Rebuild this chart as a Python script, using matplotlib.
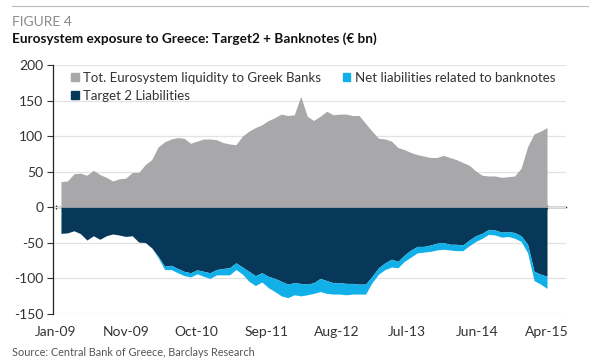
import matplotlib
matplotlib.use("Agg")
import matplotlib.pyplot as plt
from matplotlib.patches import Patch
from matplotlib.lines import Line2D
import numpy as np

plt.rcParams['font.family'] = ['Lato', 'DejaVu Sans']
plt.rcParams['axes.unicode_minus'] = False

# ---- data (monthly, Jan-09 .. Apr-15) ----
total_liquidity = [36, 37, 47, 48, 45, 52, 46, 42, 37, 40,
                   41, 49, 49, 60, 67, 85, 92, 96, 98, 97,
                   90, 93, 96, 96, 95, 91, 89, 88, 100, 107,
                   112, 116, 122, 126, 131, 129, 130, 156, 128, 122,
                   128, 135, 130, 131, 131, 129, 129, 118, 107, 97,
                   96, 93, 84, 81, 77, 74, 72, 70, 70, 73,
                   70, 67, 63, 59, 51, 45, 44, 44, 42, 43,
                   44, 55, 85, 103, 107, 112]
target2 = [-36.6, -36, -33, -37, -46, -40, -45, -40, -37.5, -39,
           -41, -40, -49, -49.5, -57, -69, -83, -81.5, -86, -90,
           -92, -88, -90, -92, -87.5, -86, -85, -78, -84, -90,
           -96, -92, -97, -100, -104, -108, -106, -107, -108, -106,
           -100, -103, -106, -106, -107, -107, -108, -108, -97, -85,
           -78, -73, -76, -67, -60, -55, -55, -53, -50.5, -49.5,
           -52, -52, -53, -46, -40, -36.5, -31, -32, -35, -34,
           -35.5, -40, -52, -90, -94, -97]
banknotes = [0, 0, 0, 0, 0, 0, 0, 0, 0, 0,
             0, 0, 0, 0, 0, -2, -4.5, -6, -6, -6,
             -6, -5.5, -7, -8, -7.5, -9, -10, -9.5, -10, -14,
             -14, -13, -16, -18.5, -20.5, -19, -17, -17.5, -15, -15,
             -18.5, -18, -16, -16, -16, -15, -14, -14, -9, -9,
             -9.5, -11, -9, -9, -10, -9, -8, -9, -9.5, -9.5,
             -8, -9, -8, -8, -8, -7, -7, -7, -7, -7,
             -8, -8, -12, -13, -14, -17]
tick_labels = ['Jan-09', 'Nov-09', 'Oct-10', 'Sep-11', 'Aug-12', 'Jul-13', 'Jun-14', 'Apr-15']
y_ticks = [200, 150, 100, 50, 0, -50, -100, -150]

c_gray = '#A8A8AA'
c_navy = '#07385A'
c_blue = '#12B0E8'
c_text = '#333333'

x = np.arange(len(total_liquidity))
t2 = np.array(target2)
bn = np.array(banknotes)

fig = plt.figure(figsize=(6, 3.64), dpi=100)
ax = fig.add_axes([53/600, 1-314/364, (566-53)/600, (314-65)/364])

ax.fill_between(x, 0, total_liquidity, color=c_gray, lw=0, zorder=2)
ax.fill_between(x, 0, t2, color=c_navy, lw=0, zorder=2)
ax.fill_between(x, t2, t2 + bn, color=c_blue, lw=0, zorder=2)

ax.set_ylim(-150, 200)
ax.set_xlim(-1.23, 77.93)
ax.set_yticks(y_ticks)
ax.set_yticklabels([str(v) for v in y_ticks])
ax.grid(axis='y', color='#E2E2E2', lw=0.9, zorder=0)
ax.set_axisbelow(True)

xt = np.linspace(-0.8, 75, len(tick_labels))
ax.set_xticks(xt)
ax.set_xticklabels(tick_labels)
ax.tick_params(axis='x', length=0, pad=9, labelsize=10, colors=c_text)
ax.tick_params(axis='y', length=4, width=0.8, pad=3, labelsize=10, colors=c_text, direction='out')
for s in ['top', 'right', 'bottom']:
    ax.spines[s].set_visible(False)
ax.spines['left'].set_color('#222222')
ax.spines['left'].set_linewidth(0.9)

# zero axis line with tick marks
sec = ax.secondary_xaxis(150/350)
sec.set_xticks(xt)
sec.set_xticklabels([])
sec.tick_params(axis='x', length=3, width=0.8, direction='inout', color='#222222')
sec.spines['bottom'].set_color('#222222')
sec.spines['bottom'].set_linewidth(1.0)
for s in ['top', 'left', 'right']:
    sec.spines[s].set_visible(False)

handles = [Patch(color=c_gray), Patch(color=c_navy), Patch(color=c_blue)]
labels = ['Tot. Eurosystem liquidity to Greek Banks', 'Target 2 Liabilities',
          'Net liabilities related to banknotes']
leg = ax.legend(handles, labels, ncol=2, loc='upper left', bbox_to_anchor=(0.022, 1.0),
                frameon=False, fontsize=9.5, handlelength=0.6, handleheight=0.6,
                handletextpad=0.35, columnspacing=1.6, labelspacing=0.45,
                borderaxespad=0.1)
for t in leg.get_texts():
    t.set_color(c_text)

# titles
fig.add_artist(Line2D([12/600, 588/600], [1-6/364, 1-6/364], color='#BBBBBB', lw=0.8))
fig.text(12/600, 1-22/364, 'FIGURE 4', fontsize=10, color='#8A8A8A', va='center', ha='left')
fig.text(12/600, 1-39/364, 'Eurosystem exposure to Greece: Target2 + Banknotes (€ bn)',
         fontsize=9.8, fontweight='bold', color='#111111', va='center', ha='left')
fig.text(12/600, 1-352/364, 'Source: Central Bank of Greece, Barclays Research',
         fontsize=7.8, color='#555555', va='center', ha='left')

fig.savefig('out.png', dpi=100)
